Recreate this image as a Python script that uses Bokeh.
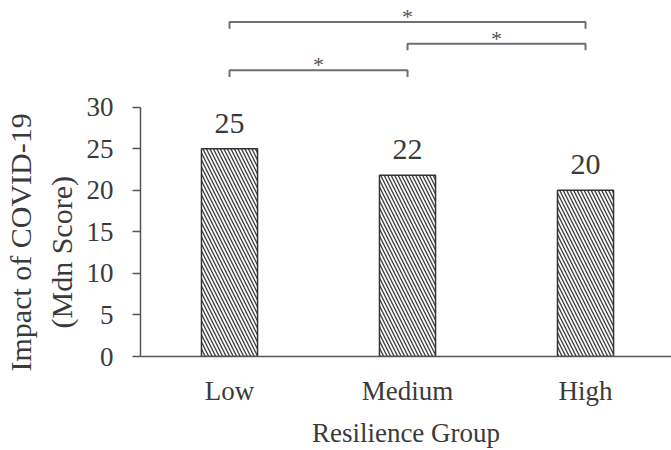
from bokeh.plotting import figure
from bokeh.models import Range1d, FixedTicker, ColumnDataSource, LabelSet, Title
from bokeh.embed import file_html
from bokeh.resources import INLINE

# ---- data ----
categories = ["Low", "Medium", "High"]
median_scores = [25.0, 21.8, 20.0]
value_labels = ["25", "22", "20"]
y_ticks = [0, 5, 10, 15, 20, 25, 30]
comparisons = [("Low", "High"), ("Medium", "High"), ("Low", "Medium")]
comparison_marks = ["*", "*", "*"]
y_title_lines = ["Impact of COVID-19", "(Mdn Score)"]
x_title = "Resilience Group"

FONT = "Liberation Serif"
TEXT = "#3a3a3a"
AXIS = "#555555"

pos = {c: i + 0.5 for i, c in enumerate(categories)}
xs = [pos[c] for c in categories]

p = figure(width=671, height=450, output_backend="svg", toolbar_location=None,
           x_range=Range1d(0, 2.983), y_range=Range1d(0, 42.84),
           min_border_left=140, min_border_right=0, min_border_top=0,
           min_border_bottom=93)
p.outline_line_color = None
p.grid.visible = False
p.background_fill_color = "white"

src = ColumnDataSource(dict(x=xs, top=median_scores, lab=value_labels))
p.vbar(x="x", top="top", bottom=0, width=0.315, source=src,
       fill_color="white", line_color="#333333", line_width=1.5,
       hatch_pattern="\\", hatch_color="#444444", hatch_scale=7, hatch_weight=1.4)

p.add_layout(LabelSet(x="x", y="top", text="lab", source=src, y_offset=16,
                      text_align="center", text_baseline="alphabetic",
                      text_font=FONT, text_font_size="30px", text_color=TEXT))

# significance brackets
levels = [40.24, 37.64, 34.44]
drop = 0.8
bx, by, sx, sy = [], [], [], []
for (a, b), lv in zip(comparisons, levels):
    bx.append([pos[a], pos[a], pos[b], pos[b]])
    by.append([lv - drop, lv, lv, lv - drop])
    sx.append((pos[a] + pos[b]) / 2)
    sy.append(lv)
p.multi_line(xs=bx, ys=by, line_color="#707070", line_width=2)
star_src = ColumnDataSource(dict(x=sx, y=sy, t=comparison_marks))
p.add_layout(LabelSet(x="x", y="y", text="t", source=star_src, y_offset=-2,
                      text_align="center", text_baseline="alphabetic",
                      text_font=FONT, text_font_size="22px", text_color="#555555"))

# y axis
ya = p.yaxis[0]
ya.bounds = (0, 30)
ya.ticker = FixedTicker(ticks=y_ticks)
ya.axis_line_color = AXIS
ya.axis_line_width = 1.5
ya.major_tick_line_color = AXIS
ya.major_tick_line_width = 1.5
ya.major_tick_in = 0
ya.major_tick_out = 8
ya.minor_tick_line_color = None
ya.major_label_standoff = 19
ya.major_label_text_font = FONT
ya.major_label_text_font_size = "27px"
ya.major_label_text_color = TEXT

# two-line y title as side titles (inner line first), anchored from the bottom
for line, off, stand in [(y_title_lines[1], 28, 12), (y_title_lines[0], -15, 0)]:
    p.add_layout(Title(text=line, align="left", offset=off, standoff=stand,
                       text_font=FONT, text_font_size="30px",
                       text_font_style="normal", text_color=TEXT), "left")

# x axis
xa = p.xaxis[0]
xa.ticker = FixedTicker(ticks=xs)
xa.major_label_overrides = {x: c for x, c in zip(xs, categories)}
xa.axis_line_color = AXIS
xa.axis_line_width = 1.5
xa.major_tick_line_color = None
xa.major_tick_in = 0
xa.major_tick_out = 0
xa.minor_tick_line_color = None
xa.major_label_standoff = 19
xa.major_label_text_font = FONT
xa.major_label_text_font_size = "27px"
xa.major_label_text_color = TEXT
xa.axis_label = x_title
xa.axis_label_text_font = FONT
xa.axis_label_text_font_size = "27px"
xa.axis_label_text_font_style = "normal"
xa.axis_label_text_color = TEXT
xa.axis_label_standoff = 9

open("out.html", "w").write(file_html(p, INLINE))
